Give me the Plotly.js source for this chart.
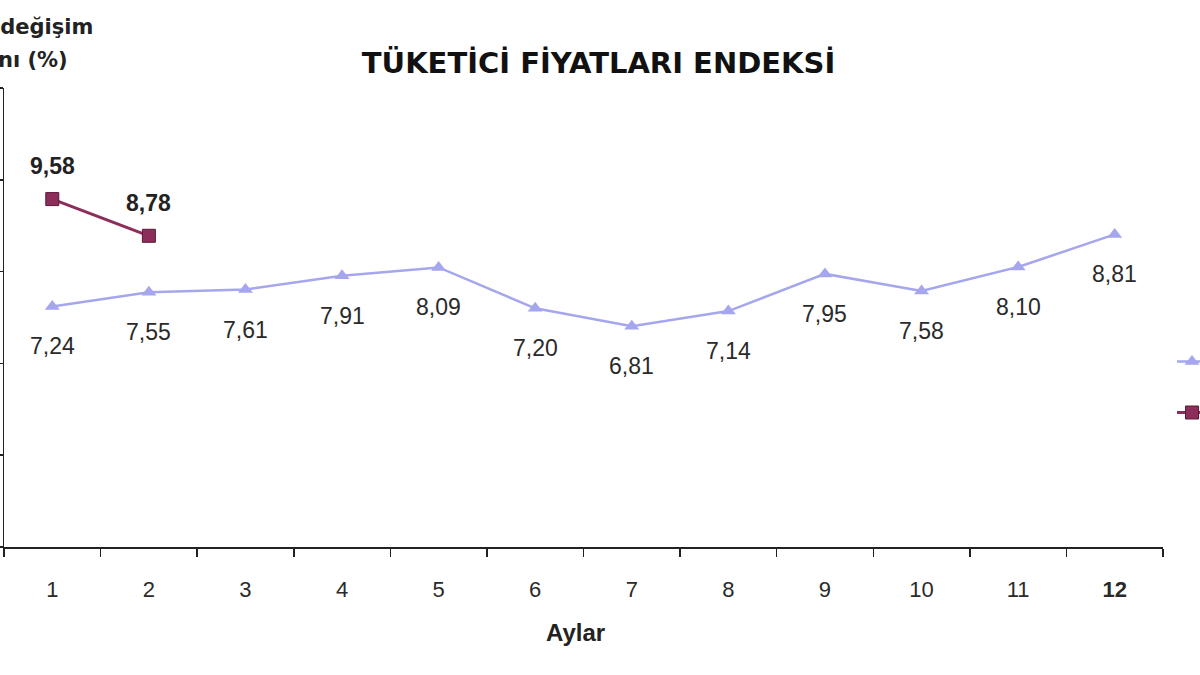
<!DOCTYPE html>
<html>
<head>
<meta charset="utf-8">
<script src="https://cdn.plot.ly/plotly-3.0.1.min.js"></script>
<style>
  html, body { margin: 0; padding: 0; background: #fff; }
  #chart { width: 1200px; height: 675px; }
</style>
</head>
<body>
<div id="chart"></div>
<script>
// Months and yearly CPI change (%)
var months = ['1', '2', '3', '4', '5', '6', '7', '8', '9', '10', '11', '12'];
var values2015 = [7.24, 7.55, 7.61, 7.91, 8.09, 7.20, 6.81, 7.14, 7.95, 7.58, 8.10, 8.81];
var months2016 = ['1', '2'];
var values2016 = [9.58, 8.78];
var tickLabels = ['1', '2', '3', '4', '5', '6', '7', '8', '9', '10', '11', '<b>12</b>'];

var color2015 = '#a6a6ee';
var color2016 = '#8c2d5a';

function fmt(v) {
    return v.toFixed(2).replace('.', ',');
}

var trace2015 = {
    x: months,
    y: values2015,
    name: '2015',
    mode: 'lines+markers',
    type: 'scatter',
    legendgroup: 'a',
    line: { color: color2015, width: 2.5 },
    marker: { symbol: 'triangle-up', size: 13, color: color2015 },
    cliponaxis: false
};

var trace2016 = {
    x: months2016,
    y: values2016,
    name: '2016',
    mode: 'lines+markers',
    type: 'scatter',
    legendgroup: 'b',
    line: { color: color2016, width: 3 },
    marker: { symbol: 'square', size: 13, color: color2016, line: { color: '#5e1838', width: 1 } },
    cliponaxis: false
};

// Value labels: 2015 below its points, 2016 above in bold
// (x given as category index, since the axis is categorical)
var annotations = [];
values2015.forEach(function (v, i) {
    annotations.push({
        x: months.indexOf(months[i]), y: v, xref: 'x', yref: 'y',
        text: fmt(v), showarrow: false,
        yanchor: 'middle', yshift: -40,
        font: { family: 'Liberation Sans, Arial, sans-serif', size: 23, color: '#2a2a2a' }
    });
});
values2016.forEach(function (v, i) {
    annotations.push({
        x: months.indexOf(months2016[i]), y: v, xref: 'x', yref: 'y',
        text: '<b>' + fmt(v) + '</b>', showarrow: false,
        yanchor: 'middle', yshift: 33,
        font: { family: 'Liberation Sans, Arial, sans-serif', size: 23, color: '#222' }
    });
});

// Y axis title (partly cut off on the left, like the source)
annotations.push({
    xref: 'paper', yref: 'paper', x: 0.0078, y: 1 + (88 - 27) / 459,
    text: '<b>Yıllık değişim</b>', showarrow: false,
    xanchor: 'center', yanchor: 'middle',
    font: { family: 'DejaVu Sans, Verdana, sans-serif', size: 21, color: '#222' }
});
annotations.push({
    xref: 'paper', yref: 'paper', x: 0.0078, y: 1 + (88 - 60) / 459,
    text: '<b>oranı (%)</b>', showarrow: false,
    xanchor: 'center', yanchor: 'middle',
    font: { family: 'DejaVu Sans, Verdana, sans-serif', size: 21, color: '#222' }
});

// X axis title
annotations.push({
    xref: 'paper', yref: 'paper', x: (575 - 4) / 1159, y: -(632 - 547) / 459,
    text: '<b>Aylar</b>', showarrow: false,
    xanchor: 'center', yanchor: 'middle',
    font: { family: 'Liberation Sans, Arial, sans-serif', size: 24, color: '#222' }
});

var layout = {
    width: 1200,
    height: 675,
    paper_bgcolor: '#fff',
    plot_bgcolor: '#fff',
    margin: { l: 4, r: 37, t: 88, b: 128 },
    title: {
        text: '<b>TÜKETİCİ FİYATLARI ENDEKSİ</b>',
        font: { family: 'DejaVu Sans, Verdana, sans-serif', size: 29, color: '#111' },
        x: 598.5 / 1200,
        xanchor: 'center',
        y: 1 - 63 / 675,
        yanchor: 'middle'
    },
    showlegend: true,
    legend: {
        xref: 'container',
        yref: 'container',
        x: 1172 / 1200,
        xanchor: 'left',
        y: 1 - 342 / 675,
        yanchor: 'top',
        traceorder: 'grouped',
        tracegroupgap: 22,
        bgcolor: 'rgba(0,0,0,0)',
        font: { family: 'Liberation Sans, Arial, sans-serif', size: 20, color: '#222' }
    },
    xaxis: {
        type: 'category',
        range: [-0.5, 11.5],
        tickmode: 'array',
        tickvals: months,
        ticktext: tickLabels,
        tickson: 'boundaries',
        ticks: 'outside',
        ticklen: 8,
        tickwidth: 1.5,
        tickcolor: '#222',
        ticklabelstandoff: 22,
        showline: true,
        linecolor: '#222',
        linewidth: 1.5,
        showgrid: false,
        zeroline: false,
        tickfont: { family: 'Liberation Sans, Arial, sans-serif', size: 22, color: '#2a2a2a' }
    },
    yaxis: {
        range: [2, 12],
        dtick: 2,
        ticks: 'outside',
        ticklen: 6,
        tickwidth: 1.5,
        tickcolor: '#222',
        showline: true,
        linecolor: '#222',
        linewidth: 1.5,
        showgrid: false,
        zeroline: false,
        showticklabels: false
    },
    annotations: annotations
};

Plotly.newPlot('chart', [trace2015, trace2016], layout, { staticPlot: true });
</script>
</body>
</html>
